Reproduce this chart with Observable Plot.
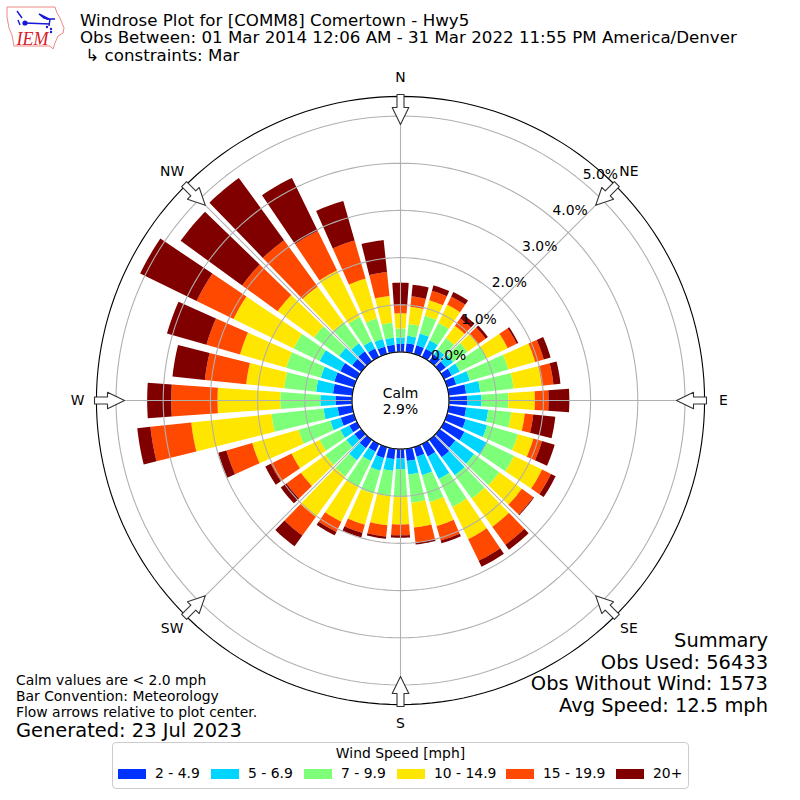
<!DOCTYPE html>
<html><head><meta charset="utf-8">
<script src="https://cdn.jsdelivr.net/npm/d3@7"></script>
<script src="https://cdn.jsdelivr.net/npm/@observablehq/plot@0.6"></script>
<style>
html,body{margin:0;padding:0;background:#fff;font-family:"DejaVu Sans",sans-serif;color:#000}
#page{position:relative;width:800px;height:800px;overflow:hidden}
.abs{position:absolute;white-space:pre}
#legend{position:absolute;left:112px;top:742px;width:575px;height:45px;border:1px solid #ccc;border-radius:4px;box-sizing:content-box;background:#fff}
#legend .lt{position:absolute;left:0;right:0;top:2px;text-align:center;font-size:13.9px}
#legend .sw{position:absolute;top:26px;width:28px;height:10px}
#legend .tx{position:absolute;top:22px;font-size:13.9px;white-space:pre}
</style></head><body><div id="page"></div>
<script>
const directions = d3.range(0, 360, 10);
const bandLabels = ["2 - 4.9","5 - 6.9","7 - 9.9","10 - 14.9","15 - 19.9","20+"];
const bandColors = ["#0033ff","#00d5ff","#7dff7a","#ffe600","#ff4800","#800000"];
// percent of observations per direction, N clockwise
const s2to5   = [.17,.19,.19,.19,.18,.16,.18,.20,.37,.39,.37,.41,.48,.41,.46,.29,.21,.26,.20,.22,.24,.18,.22,.18,.18,.29,.31,.35,.41,.43,.39,.24,.26,.20,.16,.16];
const s5to7   = [.14,.16,.26,.20,.13,.19,.19,.30,.30,.30,.47,.47,.53,.49,.47,.53,.41,.29,.23,.25,.28,.22,.32,.21,.21,.23,.30,.32,.36,.30,.49,.34,.21,.17,.17,.15];
const s7to10  = [.19,.25,.39,.41,.30,.38,.64,.85,.71,.57,.49,.68,.64,.66,.61,.66,.59,.60,.59,.54,.51,.61,.42,.55,.49,.70,1.11,.85,.68,.76,.61,.66,.55,.57,.45,.32];
const s10to15 = [.32,.37,.34,.43,.32,.28,.49,.59,.60,.56,.29,.34,.66,.59,.74,.76,.53,.53,.58,.62,.68,.82,1.06,.64,.66,1.02,1.71,1.33,.81,1.02,1.42,.95,.94,1.10,.88,.57];
const s15to20 = [.18,.22,.21,.19,.19,.19,.21,.19,.25,.29,.18,.19,.21,.30,.47,.51,.32,.32,.23,.24,.18,.24,.49,.38,.49,.57,.87,.98,.88,.74,.87,.93,1.21,.93,.84,.51];
const s20plus = [.47,.25,.12,.11,.11,.06,.04,.15,.15,.44,.47,.28,.11,.02,.13,.14,.06,.04,.05,.05,.10,.08,.28,.15,.13,.18,.28,.51,.69,.87,1.33,1.61,1.63,1.25,.87,.68];
const bandValues = [s2to5,s5to7,s7to10,s10to15,s15to20,s20plus];
const radialTicks = [0,1,2,3,4,5];
const compass = [["N",0],["NE",45],["E",90],["SE",135],["S",180],["SW",225],["W",270],["NW",315]];
const titleLines = ["Windrose Plot for [COMM8] Comertown - Hwy5","Obs Between: 01 Mar 2014 12:06 AM - 31 Mar 2022 11:55 PM America/Denver"," \u21b3 constraints: Mar"];
const noteLines = ["Calm values are < 2.0 mph","Bar Convention: Meteorology","Flow arrows relative to plot center."];
const summaryLines = ["Summary","Obs Used: 56433","Obs Without Wind: 1573","Avg Speed: 12.5 mph"];

// polar geometry, in percent units: the 0% ring sits at `origin`
const origin = 1.0275, rim = 5.415, half = 8.4746, barDeg = 8;
const px = (deg, r) => (r + origin) * Math.sin(deg * Math.PI / 180);
const py = (deg, r) => (r + origin) * Math.cos(deg * Math.PI / 180);

const barPts = [];
directions.forEach((dir, i) => {
  let base = 0;
  bandLabels.forEach((band, b) => {
    const top = base + bandValues[b][i];
    const id = dir + "-" + b;
    const arc = d3.range(-barDeg / 2, barDeg / 2 + 0.01, 1);
    arc.forEach(a => barPts.push({id, band, x: px(dir + a, base), y: py(dir + a, base)}));
    arc.slice().reverse().forEach(a => barPts.push({id, band, x: px(dir + a, top), y: py(dir + a, top)}));
    base = top;
  });
});
const ring = r => d3.range(0, 361, 2).map(a => ({id: r, x: px(a, r), y: py(a, r)}));
const gridRings = radialTicks.flatMap(ring);
const spokes = compass.flatMap(([n, a]) => [{id: n, x: px(a, 0), y: py(a, 0)}, {id: n, x: px(a, rim), y: py(a, rim)}]);
const unitPx = 1 / 47.2;
const arrowPts = compass.flatMap(([n, a]) => {
  const t = a * Math.PI / 180, c = [[276,0],[293,8.3],[293,3.5],[306,3.5],[306,-3.5],[293,-3.5],[293,-8.3],[276,0]];
  return c.map(([r, w]) => ({id: n,
    x: (r * Math.sin(t) + w * Math.cos(t)) * unitPx,
    y: (r * Math.cos(t) - w * Math.sin(t)) * unitPx}));
});
const lab = compass.map(([n, a]) => ({n, a, x: 323 * unitPx * Math.sin(a * Math.PI / 180), y: 323 * unitPx * Math.cos(a * Math.PI / 180)}));
const upperDiagonal = d => d.n === "NE" || d.n === "NW";

const chart = Plot.plot({
  width: 800, height: 800, margin: 0,
  x: {domain: [-half, half], range: [0, 800], axis: null},
  y: {domain: [-half, half], range: [800, 0], axis: null},
  color: {domain: bandLabels, range: bandColors, legend: false},
  style: {fontFamily: "DejaVu Sans", background: "#fff", color: "#000"},
  marks: [
    Plot.line(barPts, {x: "x", y: "y", z: "id", fill: "band", stroke: "none", curve: "linear"}),
    Plot.line(gridRings, {x: "x", y: "y", z: "id", stroke: "#b0b0b0", strokeWidth: 1.1}),
    Plot.line(spokes, {x: "x", y: "y", z: "id", stroke: "#b0b0b0", strokeWidth: 1.1}),
    Plot.line(ring(0), {x: "x", y: "y", stroke: "#000", strokeWidth: 1.1}),
    Plot.line(ring(rim), {x: "x", y: "y", stroke: "#000", strokeWidth: 1.1}),
    Plot.line(arrowPts, {x: "x", y: "y", z: "id", fill: "#fff", stroke: "#333", strokeWidth: 1.1, curve: "linear"}),
    Plot.text(radialTicks, {x: d => px(40, d), y: d => py(40, d), dx: 17, dy: -8, text: d => d.toFixed(1) + "%", fontSize: 13.9, fill: "#000"}),
    Plot.text(lab.filter(d => !upperDiagonal(d)), {x: "x", y: "y", text: "n", fontSize: 13.9, fill: "#000"}),
    Plot.text(lab.filter(upperDiagonal), {x: "x", y: "y", dy: -1, text: "n", fontSize: 13.9, fill: "#000"}),
    Plot.text(["Calm\n2.9%"], {x: () => 0, y: () => 0, text: d => d, fontSize: 13.9, fill: "#000", lineHeight: 1.15})
  ]
});
const page = document.getElementById("page");
page.appendChild(chart);

function put(txt, css) { const d = document.createElement("div"); d.className = "abs"; d.textContent = txt; d.style.cssText = css; page.appendChild(d); }
titleLines.forEach((t, i) => put(t, `left:80px;top:${12 + i * 17.4}px;font-size:16.67px;line-height:17px`));
noteLines.forEach((t, i) => put(t, `left:16px;top:${672.5 + i * 16}px;font-size:13.9px;line-height:15px`));
put("Generated: 23 Jul 2023", "left:16px;top:720.5px;font-size:19.45px;line-height:19px");
summaryLines.forEach((t, i) => put(t, `right:32px;top:${631 + i * 21.7}px;font-size:19.45px;line-height:20px`));

const logo = document.createElementNS("http://www.w3.org/2000/svg", "svg");
logo.setAttribute("width", 70); logo.setAttribute("height", 52);
logo.style.cssText = "position:absolute;left:0;top:0";
logo.innerHTML = `<path d="M7 7L55 7L57 13L60 18L64 28L63 33L58 36L55 43L53 49L50 46L14 46L12 35L9 28L7 17Z" fill="none" stroke="#e88" stroke-width="1"/>
<g stroke="#1818d8" stroke-width="1.4" fill="none"><path d="M25 23L50 24M46 19L55 19M50 19L49 26M17 11L22 18M20 25L18 20"/><path d="M39 14L49 19L44 18Z" fill="#1818d8"/></g>
<circle cx="25" cy="23" r="2.6" fill="#1818d8"/><circle cx="51" cy="29" r="1.2" fill="#1818d8"/><circle cx="47" cy="27" r="1.2" fill="#1818d8"/><circle cx="51" cy="32" r="1.2" fill="#1818d8"/>
<text x="16.5" y="44.5" font-family="Liberation Serif" font-style="italic" font-size="18" fill="#d8202a">IEM</text>`;
page.appendChild(logo);

const lg = document.createElement("div"); lg.id = "legend";
lg.innerHTML = `<div class="lt">Wind Speed [mph]</div>`;
const swx = [5, 98, 191, 284, 393, 503], txx = [42, 135, 228, 321, 430, 540];
bandLabels.forEach((b, i) => {
  lg.innerHTML += `<div class="sw" style="left:${swx[i]}px;background:${bandColors[i]}"></div><div class="tx" style="left:${txx[i]}px">${b}</div>`;
});
page.appendChild(lg);
</script></body></html>
